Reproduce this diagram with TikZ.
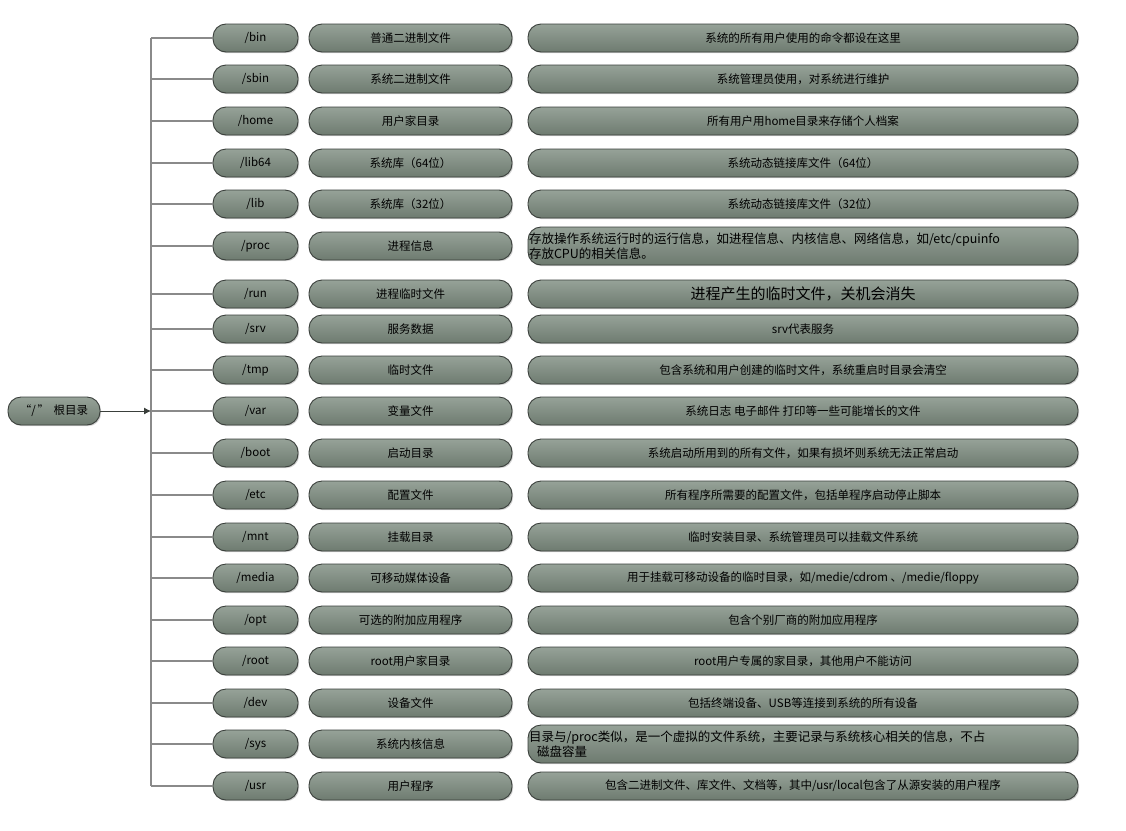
\documentclass[tikz,border=0pt]{standalone}
\usepackage{fontspec}
\setmainfont{Noto Sans CJK SC}
\usetikzlibrary{shadows,arrows.meta}
\definecolor{boxfill}{HTML}{7D8A7F}
\definecolor{boxtop}{HTML}{96A298}
\definecolor{boxbot}{HTML}{6E7B70}
\definecolor{edge}{HTML}{3A3F3B}
\definecolor{trunk}{HTML}{8A8A8A}
\tikzset{
  pill/.style={draw=edge,line width=0.9pt,rounded corners=13pt,minimum height=28pt,
    top color=boxtop,bottom color=boxbot,inner sep=1pt,
    font=\fontsize{11.5}{13.5}\selectfont,text=black,
    drop shadow={opacity=0.35,shadow xshift=1.2pt,shadow yshift=-1.2pt}},
  wire/.style={draw=trunk,line width=1.6pt},
}
\begin{document}
\begin{tikzpicture}[x=1pt,y=-1pt]
\useasboundingbox (0,0) rectangle (1126,830);
\node[pill,minimum width=92pt] (root) at (54,411) {“/\,” \,根目录};
\coordinate (ttop) at (151,38);
\coordinate (tbot) at (151,786);
\coordinate (tmid) at (151,411);
\draw[wire] (ttop) -- (tbot);
\draw[draw=edge,line width=0.9pt,-{Latex[length=7pt,width=7pt]}] (root) -- (tmid);
\foreach \i/\y/\a/\b/\c/\h in {
 1/38/{/bin}/{普通二进制文件}/{系统的所有用户使用的命令都设在这里}/28,
 2/79/{/sbin}/{系统二进制文件}/{系统管理员使用，对系统进行维护}/28,
 3/121/{/home}/{用户家目录}/{所有用户用home目录来存储个人档案}/28,
 4/163/{/lib64}/{系统库（64位）}/{系统动态链接库文件（64位）}/28,
 5/204/{/lib}/{系统库（32位）}/{系统动态链接库文件（32位）}/28,
 6/246/{/proc}/{进程信息}/{\parbox{548pt}{\fontsize{12.5}{15}\selectfont\raggedright 存放操作系统运行时的运行信息，如进程信息、内核信息、网络信息，如/etc/cpuinfo\\存放CPU的相关信息。}}/38,
 7/294/{/run}/{进程临时文件}/{\fontsize{15}{17}\selectfont 进程产生的临时文件，关机会消失}/28,
 8/329/{/srv}/{服务数据}/{srv代表服务}/28,
 9/370/{/tmp}/{临时文件}/{包含系统和用户创建的临时文件，系统重启时目录会清空}/28,
 10/411/{/var}/{变量文件}/{系统日志 电子邮件 打印等一些可能增长的文件}/28,
 11/453/{/boot}/{启动目录}/{系统启动所用到的所有文件，如果有损坏则系统无法正常启动}/28,
 12/495/{/etc}/{配置文件}/{所有程序所需要的配置文件，包括单程序启动停止脚本}/28,
 13/537/{/mnt}/{挂载目录}/{临时安装目录、系统管理员可以挂载文件系统}/28,
 14/578/{/media}/{可移动媒体设备}/{用于挂载可移动设备的临时目录，如/medie/cdrom 、/medie/floppy}/28,
 15/620/{/opt}/{可选的附加应用程序}/{包含个别厂商的附加应用程序}/28,
 16/661/{/root}/{root用户家目录}/{root用户专属的家目录，其他用户不能访问}/28,
 17/703/{/dev}/{设备文件}/{包括终端设备、USB等连接到系统的所有设备}/28,
 18/744/{/sys}/{系统内核信息}/{\parbox{548pt}{\fontsize{12.5}{15}\selectfont\raggedright 目录与/proc类似，是一个虚拟的文件系统，主要记录与系统核心相关的信息，不占\\\hspace*{8pt}磁盘容量}}/38,
 19/786/{/usr}/{用户程序}/{包含二进制文件、库文件、文档等，其中/usr/local包含了从源安装的用户程序}/28}
{
 \node[pill,minimum width=85pt] (a\i) at (255.5,\y) {\a};
 \node[pill,minimum width=203pt] (b\i) at (410.5,\y) {\b};
 \node[pill,minimum width=550pt,minimum height=\h pt] (c\i) at (803,\y) {\c};
 \coordinate (t\i) at (151,\y);
 \draw[wire] (t\i) -- (a\i);
}
\end{tikzpicture}
\end{document}
